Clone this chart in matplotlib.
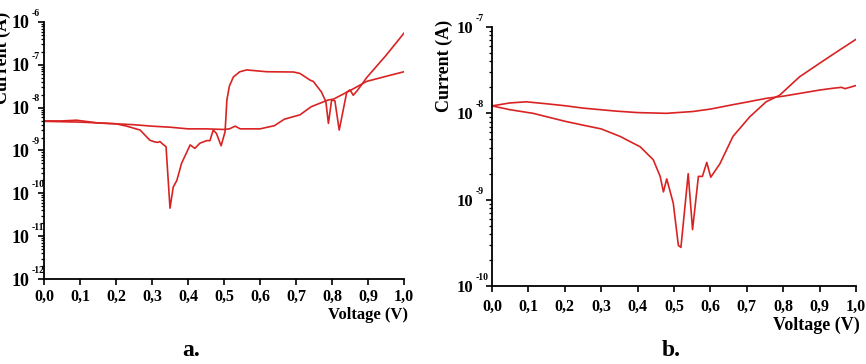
import numpy as np
import matplotlib
matplotlib.use("Agg")
from matplotlib import pyplot as plt
from matplotlib.ticker import LogLocator, FixedLocator, NullFormatter, FuncFormatter

plt.rcParams["font.family"] = ["Liberation Serif", "DejaVu Serif"]
plt.rcParams["font.weight"] = "bold"

RED = "#d92323"

### pannello a: ramo con i picchi verso il basso
v_a_dip = [0.00, 0.05, 0.09, 0.15, 0.20, 0.23, 0.267, 0.294, 0.308, 0.317, 0.322,
           0.331, 0.339, 0.350, 0.359, 0.369, 0.382, 0.396, 0.406, 0.419, 0.433,
           0.452, 0.461, 0.470, 0.479, 0.492, 0.503, 0.508, 0.515, 0.526, 0.544,
           0.563, 0.619, 0.693, 0.711, 0.739, 0.748, 0.771, 0.783, 0.790, 0.799,
           0.808, 0.820, 0.841, 0.850, 0.859, 0.870, 0.882, 0.896, 0.95, 1.0]
i_a_dip = [4.9e-9, 4.9e-9, 5.1e-9, 4.4e-9, 4.2e-9, 3.7e-9, 3.0e-9, 1.74e-9, 1.58e-9,
           1.55e-9, 1.62e-9, 1.38e-9, 1.23e-9, 4.5e-11, 1.4e-10, 2.0e-10, 5.0e-10,
           8.9e-10, 1.35e-9, 1.12e-9, 1.48e-9, 1.7e-9, 1.7e-9, 3.0e-9, 2.5e-9,
           1.29e-9, 2.75e-9, 1.51e-8, 3.2e-8, 5.2e-8, 6.9e-8, 7.6e-8, 6.9e-8,
           6.8e-8, 6.3e-8, 4.4e-8, 4.1e-8, 2.3e-8, 1.38e-8, 4.3e-9, 1.51e-8,
           1.45e-8, 3.0e-9, 2.3e-8, 2.6e-8, 1.95e-8, 2.5e-8, 3.4e-8, 5.0e-8,
           1.66e-7, 5.5e-7]

### pannello a: ramo quasi piatto
v_a_flat = [0.00, 0.05, 0.10, 0.15, 0.20, 0.25, 0.30, 0.35, 0.40, 0.45, 0.50, 0.515,
            0.531, 0.545, 0.60, 0.64, 0.668, 0.711, 0.742, 0.789, 0.804, 0.85,
            0.896, 0.943, 1.0]
i_a_flat = [4.8e-9, 4.7e-9, 4.6e-9, 4.4e-9, 4.2e-9, 4.0e-9, 3.7e-9, 3.5e-9, 3.2e-9,
            3.2e-9, 3.1e-9, 3.2e-9, 3.7e-9, 3.2e-9, 3.2e-9, 3.8e-9, 5.4e-9, 6.8e-9,
            1.05e-8, 1.51e-8, 1.58e-8, 2.5e-8, 4.1e-8, 5.2e-8, 6.9e-8]

### pannello b: ramo superiore
v_b_up = [0.00, 0.05, 0.094, 0.15, 0.204, 0.25, 0.30, 0.342, 0.40, 0.479, 0.552,
          0.60, 0.662, 0.70, 0.753, 0.80, 0.845, 0.90, 0.936, 0.96, 0.97, 1.0]
i_b_up = [1.22e-8, 1.32e-8, 1.36e-8, 1.29e-8, 1.22e-8, 1.15e-8, 1.10e-8, 1.06e-8,
          1.02e-8, 1.0e-8, 1.05e-8, 1.12e-8, 1.26e-8, 1.35e-8, 1.49e-8, 1.58e-8,
          1.70e-8, 1.86e-8, 1.95e-8, 2.0e-8, 1.93e-8, 2.1e-8]

### pannello b: ramo inferiore
v_b_low = [0.00, 0.05, 0.113, 0.20, 0.25, 0.30, 0.352, 0.407, 0.443, 0.462, 0.471,
           0.480, 0.498, 0.512, 0.519, 0.539, 0.551, 0.567, 0.578, 0.590, 0.601,
           0.626, 0.662, 0.708, 0.753, 0.79, 0.845, 0.90, 0.936, 1.0]
i_b_low = [1.22e-8, 1.1e-8, 1.0e-8, 8.1e-9, 7.3e-9, 6.6e-9, 5.4e-9, 4.1e-9, 2.9e-9,
           1.86e-9, 1.23e-9, 1.74e-9, 9.1e-10, 2.95e-10, 2.8e-10, 2.0e-9, 4.5e-10,
           1.86e-9, 1.86e-9, 2.7e-9, 1.82e-9, 2.6e-9, 5.4e-9, 9.1e-9, 1.36e-8,
           1.62e-8, 2.65e-8, 3.8e-8, 4.8e-8, 7.2e-8]

x_ticks = [0.0, 0.1, 0.2, 0.3, 0.4, 0.5, 0.6, 0.7, 0.8, 0.9, 1.0]


def comma_fmt(x, pos):
    return f"{x:.1f}".replace(".", ",")


def style_axis(ax, exps, ysize, ypad, xpad):
    ax.set_yscale("log")
    ax.set_xlim(0, 1.0)
    ax.set_ylim(10.0 ** exps[0], 10.0 ** exps[-1])
    for s in ["top", "right"]:
        ax.spines[s].set_visible(False)
    for s in ["left", "bottom"]:
        ax.spines[s].set_linewidth(1.3)
    ax.xaxis.set_major_locator(FixedLocator(x_ticks))
    ax.xaxis.set_major_formatter(FuncFormatter(comma_fmt))
    ax.yaxis.set_major_locator(FixedLocator([10.0 ** e for e in exps]))
    ax.yaxis.set_minor_locator(LogLocator(base=10, subs=np.arange(2, 10), numticks=20))
    # la base "10" come tick label, l'esponente piccolo lo aggiungo a parte
    ax.yaxis.set_major_formatter(FuncFormatter(lambda y, pos: "10"))
    ax.yaxis.set_minor_formatter(NullFormatter())
    ax.tick_params(axis="both", which="major", direction="out", length=4, width=1.2)
    ax.tick_params(axis="y", which="minor", direction="out", length=2.5, width=0.9)
    ax.tick_params(axis="y", which="major", labelsize=ysize, pad=ypad)
    ax.tick_params(axis="x", which="major", labelsize=11.5, pad=xpad)
    for lab in ax.get_xticklabels() + ax.get_yticklabels():
        lab.set_fontweight("bold")
    for e in exps:
        ax.annotate(f"-{abs(e)}", xy=(0, 10.0 ** e), xycoords=("axes fraction", "data"),
                    xytext=(-(ypad + 4 * 0.72) + 0.5, 3), textcoords="offset points",
                    ha="left", va="bottom", fontsize=7, fontweight="bold",
                    annotation_clip=False)


fig = plt.figure(figsize=(8.66, 3.64), dpi=100)

ax_a = fig.add_axes([44 / 866, 1 - 279 / 364, 360 / 866, 257 / 364])
ax_a.plot(v_a_dip, i_a_dip, color=RED, lw=1.2)
ax_a.plot(v_a_flat, i_a_flat, color=RED, lw=1.2)
style_axis(ax_a, [-12, -11, -10, -9, -8, -7, -6], ysize=13, ypad=6.5, xpad=3)

ax_b = fig.add_axes([492 / 866, 1 - 286 / 364, 364 / 866, 259 / 364])
ax_b.plot(v_b_up, i_b_up, color=RED, lw=1.2)
ax_b.plot(v_b_low, i_b_low, color=RED, lw=1.2)
style_axis(ax_b, [-10, -9, -8, -7], ysize=12, ypad=9.5, xpad=5)

# etichette assi e lettere dei pannelli
fig.text(2 / 866, 1 - 58 / 364, "Current (A)", rotation=90, ha="center", va="center",
         fontsize=13, fontweight="bold")
fig.text(444 / 866, 1 - 66 / 364, "Current (A)", rotation=90, ha="center", va="center",
         fontsize=13, fontweight="bold")
fig.text(408 / 866, 1 - 315 / 364, "Voltage (V)", ha="right", va="center",
         fontsize=12, fontweight="bold")
fig.text(860 / 866, 1 - 325 / 364, "Voltage (V)", ha="right", va="center",
         fontsize=13, fontweight="bold")
fig.text(191 / 866, 1 - 351 / 364, "a.", ha="center", va="center",
         fontsize=17, fontweight="bold")
fig.text(671 / 866, 1 - 351 / 364, "b.", ha="center", va="center",
         fontsize=17, fontweight="bold")

fig.savefig("out.png", dpi=100)
